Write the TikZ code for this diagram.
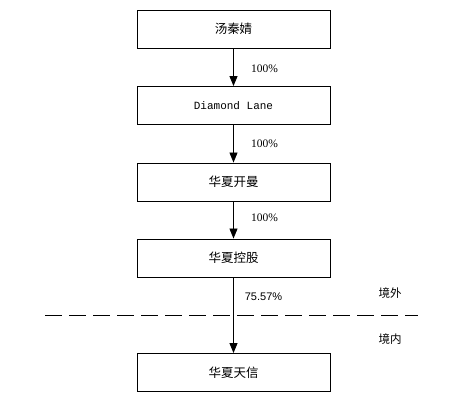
\documentclass[tikz,border=0pt]{standalone}
\usepackage{fontspec}
\setmainfont{Liberation Serif}
\newfontfamily\cjk{Noto Sans CJK SC}
\newfontfamily\monof{Liberation Mono}
\newfontfamily\sansf{Liberation Sans}
\usetikzlibrary{arrows.meta}
\begin{document}
\begin{tikzpicture}[x=1pt,y=-1pt,
  entbox/.style={draw, line width=0.9pt, minimum width=193pt, minimum height=38pt, inner sep=0pt, font=\cjk\fontsize{12.5}{14}\selectfont},
  conn/.style={draw, line width=0.9pt, -{Triangle[length=10pt,width=8pt]}},
  pct/.style={font=\fontsize{11.5}{13}\selectfont, inner sep=0pt},
  region/.style={font=\cjk\fontsize{11.5}{13}\selectfont, inner sep=0pt}]
\useasboundingbox (0,0) rectangle (475,406);
\node[entbox] (a) at (233.5,29) {汤秦婧};
\node[entbox, font=\monof\fontsize{11}{13}\selectfont] (b) at (233.5,105.5) {Diamond Lane};
\node[entbox] (c) at (233.5,182) {华夏开曼};
\node[entbox] (d) at (233.5,258) {华夏控股};
\node[entbox] (e) at (233.5,372.5) {华夏天信};
\draw[conn] (a) -- (b);
\draw[conn] (b) -- (c);
\draw[conn] (c) -- (d);
\draw[conn] (d) -- (e);
\node[pct] (p1) at (264.5,69) {100\%};
\node[pct] (p2) at (264.5,144) {100\%};
\node[pct] (p3) at (264.5,218) {100\%};
\node[pct, font=\sansf\fontsize{11}{13}\selectfont] (p4) at (263.5,297) {75.57\%};
\node[region] (w) at (390,293) {境外};
\node[region] (n) at (390,339) {境内};
\coordinate (l1) at (45,315);
\coordinate (l2) at (418,315);
\draw[line width=0.9pt, dash pattern=on 17pt off 7pt] (l1) -- (l2);
\end{tikzpicture}
\end{document}
